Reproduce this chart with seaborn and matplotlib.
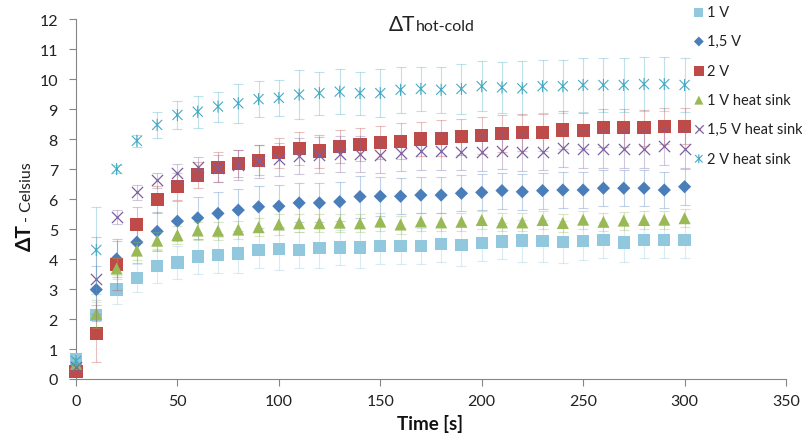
import numpy as np
import pandas as pd
import matplotlib
matplotlib.use("Agg")
import matplotlib.pyplot as plt
import seaborn as sns
from matplotlib.path import Path

# time axis (s)
time_s = list(range(0, 310, 10))

# mean temperature difference per series
dt_1v = [0.65, 2.13, 2.98, 3.37, 3.77, 3.88, 4.09, 4.13, 4.19, 4.30, 4.33, 4.30, 4.36, 4.39, 4.39, 4.44,
         4.44, 4.44, 4.50, 4.46, 4.53, 4.59, 4.61, 4.60, 4.57, 4.60, 4.64, 4.55, 4.64, 4.64, 4.63]
dt_15v = [0.40, 2.98, 4.00, 4.56, 4.92, 5.26, 5.37, 5.52, 5.63, 5.74, 5.76, 5.87, 5.87, 5.91, 6.08, 6.09,
          6.09, 6.13, 6.13, 6.19, 6.22, 6.28, 6.24, 6.28, 6.30, 6.30, 6.36, 6.36, 6.36, 6.30, 6.41]
dt_2v = [0.24, 1.53, 3.82, 5.14, 5.98, 6.42, 6.80, 7.06, 7.17, 7.29, 7.55, 7.67, 7.60, 7.76, 7.81, 7.88,
         7.92, 8.00, 8.03, 8.08, 8.13, 8.18, 8.23, 8.23, 8.30, 8.27, 8.37, 8.37, 8.38, 8.42, 8.42]
dt_1v_hs = [0.50, 2.17, 3.68, 4.28, 4.61, 4.80, 4.95, 4.94, 4.98, 5.06, 5.15, 5.19, 5.20, 5.21, 5.19, 5.25,
            5.15, 5.25, 5.22, 5.24, 5.30, 5.22, 5.22, 5.30, 5.20, 5.31, 5.24, 5.28, 5.30, 5.31, 5.36]
dt_15v_hs = [0.40, 3.33, 5.39, 6.22, 6.63, 6.87, 7.06, 7.02, 7.15, 7.26, 7.32, 7.42, 7.47, 7.50, 7.50, 7.47,
             7.53, 7.59, 7.60, 7.58, 7.56, 7.61, 7.56, 7.58, 7.69, 7.67, 7.67, 7.67, 7.67, 7.76, 7.67]
dt_2v_hs = [0.60, 4.30, 7.00, 7.94, 8.47, 8.80, 8.91, 9.08, 9.19, 9.33, 9.37, 9.48, 9.53, 9.58, 9.53, 9.53,
            9.64, 9.67, 9.64, 9.67, 9.76, 9.72, 9.69, 9.76, 9.76, 9.80, 9.80, 9.80, 9.83, 9.83, 9.80]

# error bar half-widths
err_1v = [0.10, 0.45, 0.48, 0.48, 0.57, 0.55, 0.58, 0.60, 0.65, 0.60, 0.70, 0.60, 0.65, 0.58, 0.68, 0.62,
          0.60, 0.60, 0.60, 0.68, 0.60, 0.60, 0.70, 0.70, 0.70, 0.62, 0.60, 0.65, 0.60, 0.60, 0.60]
err_15v = [0.15, 0.80, 0.60, 0.70, 0.64, 0.66, 0.69, 0.70, 0.70, 0.70, 0.70, 0.65, 0.65, 0.65, 0.70, 0.65,
           0.60, 0.60, 0.60, 0.60, 0.60, 0.60, 0.60, 0.60, 0.60, 0.60, 0.60, 0.60, 0.60, 0.60, 0.60]
err_2v = [0.10, 0.95, 0.86, 0.60, 0.45, 0.45, 0.44, 0.50, 0.45, 0.50, 0.50, 0.55, 0.55, 0.55, 0.55, 0.55,
          0.60, 0.56, 0.60, 0.60, 0.62, 0.62, 0.62, 0.62, 0.62, 0.60, 0.62, 0.62, 0.60, 0.60, 0.60]
err_1v_hs = [0.10, 0.47, 0.35, 0.30, 0.30, 0.30, 0.30, 0.30, 0.30, 0.30, 0.35, 0.30, 0.30, 0.30, 0.30, 0.30,
             0.30, 0.30, 0.30, 0.30, 0.30, 0.30, 0.30, 0.30, 0.30, 0.30, 0.30, 0.30, 0.30, 0.30, 0.30]
err_15v_hs = [0.10, 1.40, 0.23, 0.25, 0.25, 0.31, 0.35, 0.45, 0.50, 0.55, 0.55, 0.60, 0.60, 0.60, 0.60, 0.60,
              0.60, 0.62, 0.62, 0.62, 0.62, 0.62, 0.62, 0.62, 0.62, 0.62, 0.62, 0.62, 0.62, 0.62, 0.62]
err_2v_hs = [0.10, 1.45, 0.14, 0.20, 0.42, 0.48, 0.53, 0.50, 0.64, 0.60, 0.60, 0.82, 0.72, 0.75, 0.72, 0.80,
             0.77, 0.74, 0.77, 0.83, 0.83, 0.85, 0.90, 0.88, 0.88, 0.89, 0.89, 0.89, 0.89, 0.89, 0.89]

labels = ["1 V", "1,5 V", "2 V", "1 V heat sink", "1,5 V heat sink", "2 V heat sink"]

# asterisk marker like excel's "star" (x with vertical bar)
star = Path([(-1, -1), (1, 1), (-1, 1), (1, -1), (0, -1.2), (0, 1.2)],
            [Path.MOVETO, Path.LINETO] * 3)

series = [
    (labels[0], dt_1v, err_1v, "#92C8DE", "s", 80, "fill"),
    (labels[1], dt_15v, err_15v, "#4A7EBB", "D", 45, "fill"),
    (labels[2], dt_2v, err_2v, "#BE4B48", "s", 90, "fill"),
    (labels[3], dt_1v_hs, err_1v_hs, "#98B954", "^", 75, "fill"),
    (labels[4], dt_15v_hs, err_15v_hs, "#7D60A0", "x", 65, "line"),
    (labels[5], dt_2v_hs, err_2v_hs, "#46AAC5", star, 75, "path"),
]

sns.set_style("white")
plt.rcParams['font.family'] = ['Lato', 'DejaVu Sans']

fig = plt.figure(figsize=(8.03, 4.39), dpi=100)
ax = fig.add_axes([76 / 803, 1 - 380 / 439, 710 / 803, 360 / 439])

z = 3
for name, vals, errs, col, mk, size, kind in series:
    ax.errorbar(time_s, vals, yerr=errs, fmt="none", ecolor=col, alpha=0.35,
                elinewidth=0.8, capsize=3.5, capthick=0.8, zorder=z, clip_on=False)
    df = pd.DataFrame({"t": time_s, "dT": vals})
    if kind == "fill":
        sns.scatterplot(data=df, x="t", y="dT", ax=ax, marker=mk, s=size, color=col,
                        edgecolor="none", label=name, zorder=z + 1, clip_on=False)
    elif kind == "line":
        sns.scatterplot(data=df, x="t", y="dT", ax=ax, marker=mk, s=size, color=col,
                        linewidth=0.9, label=name, zorder=z + 1, clip_on=False)
    else:
        sns.scatterplot(data=df, x="t", y="dT", ax=ax, marker=mk, s=size, color=col,
                        edgecolor=col, facecolor="none", linewidth=0.8, label=name,
                        zorder=z + 1, clip_on=False)
    z += 2

ax.set_xlim(0, 350)
ax.set_ylim(0, 12)
ax.set_xticks(range(0, 351, 50))
ax.set_yticks(range(0, 13))
ax.set_xlabel("")
ax.set_ylabel("")

for s in ["top", "right"]:
    ax.spines[s].set_visible(False)
for s in ["left", "bottom"]:
    ax.spines[s].set_color("#868686")
    ax.spines[s].set_linewidth(0.8)
ax.tick_params(axis="both", which="major", direction="out", length=5, width=0.8,
               color="#868686", labelsize=11.5, labelcolor="#222222", left=True, bottom=True)
ax.tick_params(axis="x", pad=6)
ax.tick_params(axis="y", pad=8)

leg = ax.legend(loc="upper left", bbox_to_anchor=(693 / 803, 1 - 6 / 439),
                bbox_transform=fig.transFigure, frameon=False, fontsize=10.5,
                labelspacing=1.05, handletextpad=0.15, handlelength=0.8,
                borderpad=0, borderaxespad=0, markerscale=0.75)
for t in leg.get_texts():
    t.set_color("#222222")

# title  ΔT hot-cold
fig.text(415 / 803, 1 - 31 / 439, "ΔT", ha="right", va="baseline", fontsize=15, color="#222222")
fig.text(416 / 803, 1 - 31 / 439, "hot-cold", ha="left", va="baseline", fontsize=11.5, color="#222222")

# y label
fig.text(25 / 803, 1 - 251 / 439, "ΔT", rotation=90, ha="center", va="bottom",
         fontsize=15, fontweight="bold", color="#111111")
fig.text(27 / 803, 1 - 222 / 439, "- Celsius", rotation=90, ha="center", va="bottom",
         fontsize=11.5, color="#222222")

# x label
fig.text(430 / 803, 1 - 424 / 439, "Time [s]", ha="center", va="center",
         fontsize=13.5, fontweight="bold", color="#111111")

fig.savefig("out.png", dpi=100)
